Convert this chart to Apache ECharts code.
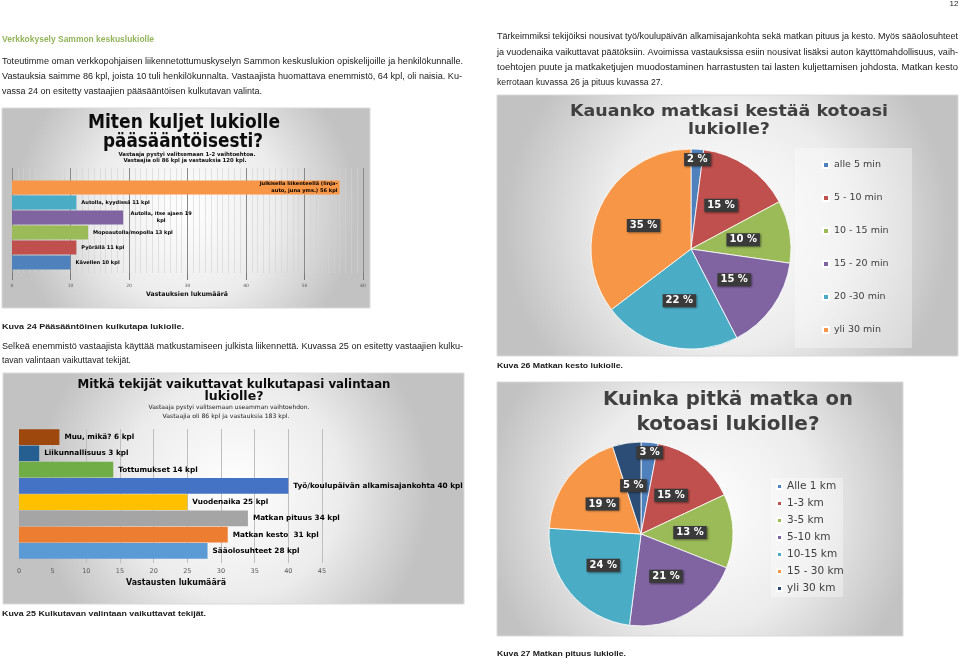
<!DOCTYPE html>
<html><head><meta charset="utf-8">
<script src="https://cdn.jsdelivr.net/npm/echarts@6/dist/echarts.min.js"></script>
<style>html,body{margin:0;padding:0;background:#fff}#c{width:960px;height:659px}</style>
</head><body><div id="c"></div>
<script>
// ---------- DATA ----------
const c1Categories = ['Julkisella liikenteellä (linja-\nauto, juna yms.)', 'Autolla, kyydissä', 'Autolla, itse ajaen', 'Mopoautolla/mopolla', 'Pyörällä', 'Kävellen'];
const c1Values = [56, 11, 19, 13, 11, 10];
const c2Categories = ['Muu, mikä?', 'Liikunnallisuus', 'Tottumukset', 'Työ/koulupäivän alkamisajankohta', 'Vuodenaika', 'Matkan pituus', 'Matkan kesto ', 'Sääolosuhteet'];
const c2Values = [6, 3, 14, 40, 25, 34, 31, 28];
const c3Labels = ['alle 5 min', '5 - 10 min', '10 - 15 min', '15 - 20 min', '20 -30 min', 'yli 30 min'];
const c3Values = [2, 15, 10, 15, 22, 35];
const c4Labels = ['Alle 1 km', '1-3 km', '3-5 km', '5-10 km', '10-15 km', '15 - 30 km', 'yli 30 km'];
const c4Values = [3, 15, 13, 21, 24, 19, 5];

// ---------- STYLES ----------
const c1Colors = ['#F79646', '#4BACC6', '#8064A2', '#9BBB59', '#C0504D', '#4F81BD'];
const c2Colors = ['#9E480E', '#255E91', '#70AD47', '#4472C4', '#FFC000', '#A5A5A5', '#ED7D31', '#5B9BD5'];
const pieColors = ['#4F81BD', '#C0504D', '#9BBB59', '#8064A2', '#4BACC6', '#F79646', '#2C4D75'];

const BODY = '"Liberation Sans", Arial, sans-serif';
const HEAD = '"DejaVu Sans", Verdana, sans-serif';

const chart = echarts.init(document.getElementById('c'), null, {renderer: 'canvas'});
const mctx = document.createElement('canvas').getContext('2d');

function txt(text, x, y, o) {
  const size = o.size, weight = o.weight || 'normal', family = o.family || BODY;
  const font = weight + ' ' + size + 'px ' + family;
  let sx = 1;
  if (o.w) { mctx.font = font; const m = mctx.measureText(text).width; if (m > 0) sx = o.w / m; }
  const al = o.align || 'left';
  return { type: 'text', x: x, y: y, scaleX: sx, z: 100, silent: true,
    style: { text: text, font: font, fill: o.color || '#1a1a1a', align: al, textAlign: al,
             verticalAlign: 'middle', textVerticalAlign: 'middle' } };
}
function box(x, y, w, h) {
  return { type: 'rect', z: -10, silent: true, shape: {x: x, y: y, width: w, height: h},
    style: { fill: new echarts.graphic.RadialGradient(0.5, 0.5, 0.85,
      [{offset: 0, color: '#ffffff'}, {offset: 0.55, color: '#ececec'}, {offset: 1, color: '#c2c2c2'}]),
      stroke: '#dadada', lineWidth: 1 } };
}
function panel(x, y, w, h) {
  return { type: 'rect', z: -5, silent: true, shape: {x: x, y: y, width: w, height: h},
    style: { fill: 'rgba(255,255,255,0.35)' } };
}

const G = [
  box(2, 108, 368, 200), box(3, 373, 461, 231), box(497, 95, 461, 261), box(497, 382, 406, 254),
  panel(795, 148, 117, 200), panel(771, 478, 72, 119),
  txt('12', 954, 4, {size: 8, align: 'center'}),
  txt('Verkkokysely Sammon keskuslukiolle', 2, 40, {size: 8.5, weight: 'bold', color: '#94b45c', w: 152}),
  txt('Toteutimme oman verkkopohjaisen liikennetottumuskyselyn Sammon keskuslukion opiskelijoille ja henkilökunnalle.', 2, 62, {size: 8.5, w: 461}),
  txt('Vastauksia saimme 86 kpl, joista 10 tuli henkilökunnalta. Vastaajista huomattava enemmistö, 64 kpl, oli naisia. Ku-', 2, 77, {size: 8.5, w: 460}),
  txt('vassa 24 on esitetty vastaajien pääsääntöisen kulkutavan valinta.', 2, 92, {size: 8.5, w: 260}),
  txt('Tärkeimmiksi tekijöiksi nousivat työ/koulupäivän alkamisajankohta sekä matkan pituus ja kesto. Myös sääolosuhteet', 497, 37, {size: 8.5, w: 461}),
  txt('ja vuodenaika vaikuttavat päätöksiin. Avoimissa vastauksissa esiin nousivat lisäksi auton käyttömahdollisuus, vaih-', 497, 53, {size: 8.5, w: 461}),
  txt('toehtojen puute ja matkaketjujen muodostaminen harrastusten tai lasten kuljettamisen johdosta. Matkan kesto', 497, 68, {size: 8.5, w: 461}),
  txt('kerrotaan kuvassa 26 ja pituus kuvassa 27.', 497, 83, {size: 8.5, w: 166}),
  txt('Kuva 24 Pääsääntöinen kulkutapa lukiolle.', 2, 327, {size: 7.5, weight: 'bold', w: 182}),
  txt('Selkeä enemmistö vastaajista käyttää matkustamiseen julkista liikennettä. Kuvassa 25 on esitetty vastaajien kulku-', 2, 347, {size: 8.5, w: 461}),
  txt('tavan valintaan vaikuttavat tekijät.', 2, 361, {size: 8.5, w: 129}),
  txt('Kuva 25 Kulkutavan valintaan vaikuttavat tekijät.', 2, 614, {size: 7.5, weight: 'bold', w: 204}),
  txt('Kuva 26 Matkan kesto lukiolle.', 497, 366, {size: 7.5, weight: 'bold', w: 126}),
  txt('Kuva 27 Matkan pituus lukiolle.', 497, 654, {size: 7.5, weight: 'bold', w: 129}),
  // chart titles
  txt('Miten kuljet lukiolle', 184, 123, {size: 19, weight: 'bold', family: HEAD, color: '#0d0d0d', align: 'center', w: 192}),
  txt('pääsääntöisesti?', 183, 142, {size: 19, weight: 'bold', family: HEAD, color: '#0d0d0d', align: 'center', w: 160}),
  txt('Vastaaja pystyi valitsemaan 1-2 vaihtoehtoa.', 187, 155, {size: 5.5, weight: 'bold', family: HEAD, color: '#0d0d0d', align: 'center', w: 137}),
  txt('Vastaajia oli 86 kpl ja vastauksia 120 kpl.', 185, 161, {size: 5.5, weight: 'bold', family: HEAD, color: '#0d0d0d', align: 'center', w: 123}),
  txt('Vastauksien lukumäärä', 187, 294, {size: 6.3, weight: 'bold', family: HEAD, color: '#0d0d0d', align: 'center', w: 82}),
  txt('Mitkä tekijät vaikuttavat kulkutapasi valintaan', 234, 385, {size: 12.5, weight: 'bold', family: HEAD, color: '#0d0d0d', align: 'center', w: 313}),
  txt('lukiolle?', 234, 397, {size: 12.5, weight: 'bold', family: HEAD, color: '#0d0d0d', align: 'center', w: 59}),
  txt('Vastaaja pystyi valitsemaan useamman vaihtoehdon.', 229, 407, {size: 6, family: HEAD, color: '#1a1a1a', align: 'center', w: 161}),
  txt('Vastaajia oli 86 kpl ja vastauksia 183 kpl.', 226, 416, {size: 6, family: HEAD, color: '#1a1a1a', align: 'center', w: 127}),
  txt('Vastausten lukumäärä', 176, 583, {size: 8, weight: 'bold', family: HEAD, color: '#0d0d0d', align: 'center', w: 100}),
  txt('Kauanko matkasi kestää kotoasi', 729, 112, {size: 15.5, weight: 'bold', family: HEAD, color: '#404040', align: 'center', w: 318}),
  txt('lukiolle?', 729, 130, {size: 15.5, weight: 'bold', family: HEAD, color: '#404040', align: 'center', w: 82}),
  txt('Kuinka pitkä matka on', 728, 400, {size: 20, weight: 'bold', family: HEAD, color: '#404040', align: 'center', w: 250}),
  txt('kotoasi lukiolle?', 728, 425, {size: 20, weight: 'bold', family: HEAD, color: '#404040', align: 'center', w: 183})
];

const pieLabel = {
  position: 'inside', formatter: p => p.value + ' %', color: '#fff', fontWeight: 'bold', fontSize: 10,
  fontFamily: HEAD, backgroundColor: '#3a3a3a', padding: [2, 3, 1, 3],
  shadowColor: 'rgba(0,0,0,0.45)', shadowBlur: 2, shadowOffsetX: 1, shadowOffsetY: 1
};
// thin first slice: put its label near the rim, inside the slice's own bounding box
function pieLabelLayout(p) {
  if (p.dataIndex === 0 && p.rect) {
    return {x: p.rect.x + p.rect.width / 2, y: p.rect.y + 11, align: 'center', verticalAlign: 'middle', hideOverlap: false};
  }
  return {hideOverlap: false};
}

const option = {
  animation: false,
  graphic: { elements: G },
  grid: [
    {left: 12, top: 168, width: 351, height: 105},
    {left: 12, top: 180, width: 351, height: 90},
    {left: 19, top: 429, width: 303, height: 130}
  ],
  xAxis: [
    {gridIndex: 0, type: 'value', min: 0, max: 60, interval: 10,
     axisLine: {show: false},
     axisTick: {show: true, length: 7, lineStyle: {color: '#7a7a7a'}},
     splitLine: {show: true, lineStyle: {color: '#8a8a8a', width: 1}},
     minorTick: {show: true, splitNumber: 10, length: 0},
     minorSplitLine: {show: true, lineStyle: {color: '#d2d2d2', width: 0.6}},
     axisLabel: {fontSize: 4.5, color: '#595959', margin: 10, fontFamily: HEAD}},
    {gridIndex: 1, type: 'value', min: 0, max: 60, show: false},
    {gridIndex: 2, type: 'value', min: 0, max: 45, interval: 5,
     axisLine: {show: false},
     axisTick: {show: true, length: 4, lineStyle: {color: '#bfbfbf'}},
     splitLine: {show: true, lineStyle: {color: '#bfbfbf', width: 1}},
     axisLabel: {fontSize: 6.5, color: '#595959', margin: 9, fontFamily: HEAD}}
  ],
  yAxis: [
    {gridIndex: 0, type: 'value', min: 0, max: 1, show: false},
    {gridIndex: 1, type: 'category', data: c1Categories, inverse: true, show: false},
    {gridIndex: 2, type: 'category', data: c2Categories, inverse: true, show: false}
  ],
  legend: [
    {data: c3Labels, orient: 'vertical', left: 822, top: 159, padding: 0, itemWidth: 6, itemHeight: 6, itemGap: 21,
     icon: 'rect', selectedMode: false, textStyle: {fontSize: 9.5, color: '#404040', lineHeight: 12, fontFamily: HEAD}},
    {data: c4Labels, orient: 'vertical', left: 776, top: 480, padding: 0, itemWidth: 5, itemHeight: 5, itemGap: 4,
     icon: 'rect', selectedMode: false, textStyle: {fontSize: 10.5, color: '#404040', lineHeight: 13, fontFamily: HEAD}}
  ],
  series: [
    {type: 'bar', xAxisIndex: 1, yAxisIndex: 1, barCategoryGap: '6%',
     data: c1Values.map((v, i) => {
       const d = {value: v, itemStyle: {color: c1Colors[i]}};
       if (i === 0) d.label = {position: 'insideRight', distance: 2};
       if (i === 2) d.label = {formatter: '{b} {c}\nkpl', align: 'center', offset: [33, 0]};
       return d;
     }),
     label: {show: true, position: 'right', distance: 5, formatter: '{b} {c} kpl', color: '#000',
             fontWeight: 'bold', fontSize: 5.1, lineHeight: 6.8, fontFamily: HEAD},
     emphasis: {disabled: true}},
    {type: 'bar', xAxisIndex: 2, yAxisIndex: 2, barCategoryGap: '4%',
     data: c2Values.map((v, i) => ({value: v, itemStyle: {color: c2Colors[i]}})),
     label: {show: true, position: 'right', distance: 5, formatter: '{b} {c} kpl', color: '#000',
             fontWeight: 'bold', fontSize: 7.3, fontFamily: HEAD},
     emphasis: {disabled: true}},
    {type: 'pie', center: [691, 249], radius: 100, startAngle: 90, clockwise: true,
     data: c3Values.map((v, i) => ({name: c3Labels[i], value: v, itemStyle: {color: pieColors[i]}})),
     label: pieLabel, labelLine: {show: false}, labelLayout: pieLabelLayout,
     itemStyle: {borderColor: '#ffffff', borderWidth: 0.8}, emphasis: {disabled: true}},
    {type: 'pie', center: [641, 534], radius: 92, startAngle: 90, clockwise: true,
     data: c4Values.map((v, i) => ({name: c4Labels[i], value: v, itemStyle: {color: pieColors[i]}})),
     label: pieLabel, labelLine: {show: false}, labelLayout: pieLabelLayout,
     itemStyle: {borderColor: '#ffffff', borderWidth: 0.8}, emphasis: {disabled: true}}
  ]
};
chart.setOption(option);
</script>
</body></html>
